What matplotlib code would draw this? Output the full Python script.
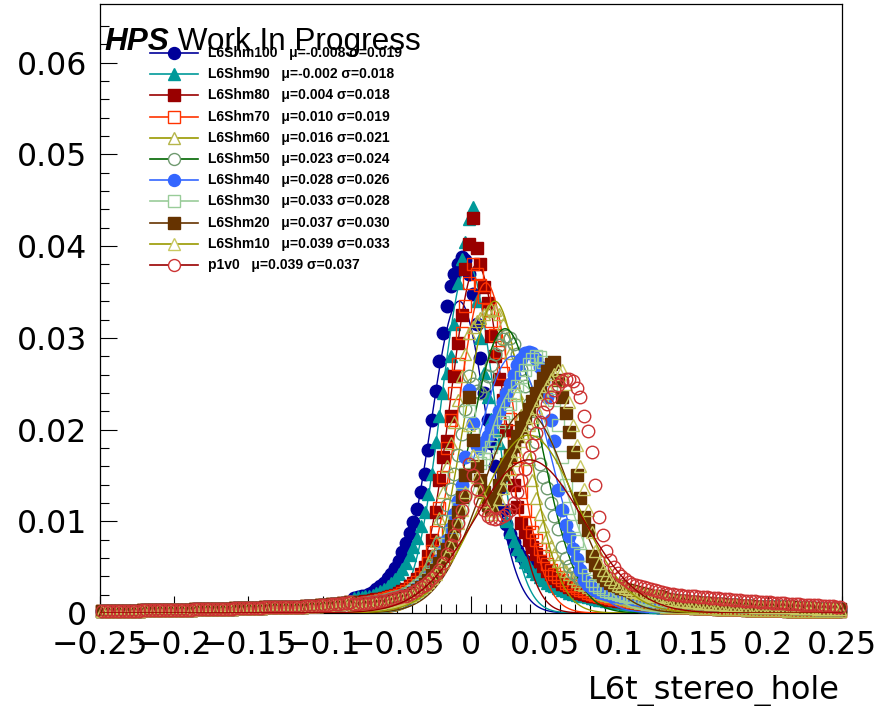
import matplotlib
matplotlib.use("Agg")
import matplotlib.pyplot as plt
import numpy as np

# 200 bins of width 0.0025 on [-0.25, 0.25]; contents in units of 1e-4
n_bins = 200
bin_centers = np.linspace(-0.24875, 0.24875, n_bins)

# far left tail, common to every sample (x <= -0.08)
tail_left = [2, 2, 2, 2, 2, 2, 2, 2, 2, 2,
             2, 3, 3, 3, 3, 3, 3, 3, 3, 3,
             3, 3, 3, 3, 3, 4, 4, 4, 4, 4,
             4, 4, 4, 4, 4, 4, 5, 5, 5, 5,
             5, 5, 5, 5, 6, 6, 6, 6, 6, 6,
             7, 7, 7, 7, 7, 8, 8, 8, 8, 9,
             9, 9, 10, 10, 10, 11, 11, 12]

# far right tails (x >= 0.13)
tail_right_narrow = [7, 7, 7, 6, 6, 6, 6, 6, 5, 5, 5, 5, 5, 5, 4, 4, 4, 4, 4, 4,
                     4, 4, 3, 3, 3, 3, 3, 3, 3, 3, 3, 3, 3, 2, 2, 2, 2, 2, 2, 2,
                     2, 2, 2, 2, 2, 2, 2, 2]
tail_right_wide = [15, 14, 14, 13, 13, 13, 12, 12, 12, 11, 11, 11, 10, 10, 10, 10, 9, 9, 9, 9,
                   8, 8, 8, 8, 7, 7, 7, 7, 7, 6, 6, 6, 6, 6, 6, 5, 5, 5, 5, 5,
                   5, 4, 4, 4, 4, 4, 4, 4]
tail_right_p1v0 = [22, 21, 21, 20, 20, 19, 19, 18, 18, 17, 17, 17, 16, 16, 16, 15, 15, 15, 14, 14,
                   14, 13, 13, 13, 13, 12, 12, 12, 12, 11, 11, 11, 11, 10, 10, 10, 10, 9, 9, 9,
                   9, 9, 8, 8, 8, 8, 7, 7]

# central bins, x from -0.07875 to 0.12875
core_shm100 = [16, 17, 18, 19, 21, 23, 26, 29, 33, 38,
               43, 49, 57, 66, 76, 87, 99, 113, 132, 152,
               178, 210, 242, 275, 305, 335, 356, 370, 380, 388,
               385, 370, 348, 315, 278, 240, 210, 185, 160, 135,
               112, 97, 86, 77, 69, 62, 57, 52, 48, 44,
               41, 38, 35, 33, 31, 29, 27, 25, 24, 22,
               21, 20, 19, 18, 17, 16, 15, 14, 13, 13,
               12, 12, 11, 11, 10, 10, 9, 9, 9, 8,
               8, 8, 7, 7]
core_shm90 = [16, 17, 17, 18, 19, 20, 22, 24, 26, 29,
              33, 37, 42, 48, 55, 63, 72, 82, 95, 110,
              130, 152, 186, 215, 240, 262, 280, 315, 360, 386,
              405, 430, 443, 340, 300, 262, 235, 212, 198, 185,
              150, 100, 88, 79, 70, 63, 56, 51, 46, 42,
              39, 36, 33, 31, 29, 27, 25, 24, 22, 21,
              20, 19, 18, 17, 16, 15, 14, 14, 13, 12,
              12, 11, 11, 10, 10, 10, 9, 9, 8, 8,
              8, 7, 7, 7]
core_shm80 = [11, 12, 12, 13, 13, 14, 15, 15, 16, 17,
              18, 20, 22, 24, 26, 29, 33, 37, 43, 50,
              62, 80, 110, 145, 170, 188, 215, 258, 294, 325,
              375, 402, 431, 398, 380, 355, 338, 302, 280, 255,
              232, 200, 170, 140, 116, 98, 88, 80, 72, 64,
              57, 51, 46, 42, 38, 35, 32, 30, 28, 26,
              24, 22, 21, 20, 19, 18, 17, 16, 15, 14,
              14, 13, 13, 12, 12, 11, 11, 10, 10, 10,
              9, 9, 9, 8]
core_shm70 = [10, 10, 11, 11, 12, 12, 13, 14, 15, 16,
              17, 18, 20, 22, 24, 27, 30, 34, 39, 45,
              55, 68, 88, 115, 148, 180, 210, 240, 272, 305,
              335, 360, 380, 370, 358, 345, 330, 318, 303, 285,
              262, 238, 212, 185, 158, 132, 112, 98, 88, 80,
              70, 62, 53, 47, 43, 39, 36, 33, 31, 29,
              27, 25, 24, 22, 21, 20, 19, 18, 17, 16,
              15, 15, 14, 13, 13, 12, 12, 11, 11, 10,
              10, 10, 9, 9]
core_shm60 = [10, 10, 11, 11, 12, 12, 13, 14, 15, 16,
              17, 18, 20, 22, 24, 27, 30, 34, 39, 45,
              53, 63, 78, 104, 132, 160, 185, 208, 232, 258,
              282, 305, 312, 318, 322, 326, 329, 331, 330, 326,
              315, 300, 283, 262, 240, 216, 193, 168, 145, 125,
              108, 95, 83, 73, 64, 57, 51, 46, 42, 38,
              35, 32, 30, 28, 26, 24, 22, 21, 20, 19,
              18, 17, 16, 15, 14, 13, 12, 11, 11, 10,
              10, 9, 9, 8]
core_shm50 = [10, 10, 11, 11, 12, 12, 13, 13, 14, 15,
              16, 17, 18, 20, 22, 24, 27, 30, 34, 39,
              45, 52, 62, 76, 100, 118, 135, 152, 172, 195,
              222, 258, 250, 242, 240, 248, 258, 270, 282, 292,
              299, 302, 300, 293, 282, 266, 248, 228, 207, 186,
              163, 148, 136, 120, 106, 92, 72, 60, 51, 44,
              40, 37, 35, 33, 31, 30, 29, 28, 26, 25,
              24, 23, 22, 21, 20, 19, 18, 17, 16, 16,
              15, 14, 14, 13]
core_shm40 = [9, 9, 10, 10, 10, 11, 11, 12, 12, 13,
              14, 15, 16, 18, 20, 22, 25, 28, 31, 35,
              39, 44, 51, 58, 68, 80, 93, 108, 122, 140,
              170, 243, 207, 182, 180, 186, 193, 201, 210, 220,
              230, 240, 250, 260, 270, 277, 283, 285, 283, 277,
              268, 253, 235, 210, 188, 134, 112, 96, 84, 70,
              59, 47, 36, 31, 27, 25, 23, 22, 21, 20,
              19, 18, 17, 17, 16, 15, 15, 14, 14, 14,
              13, 13, 13, 12]
core_shm30 = [9, 9, 10, 10, 10, 11, 11, 12, 12, 13,
              14, 15, 16, 17, 19, 21, 24, 27, 30, 33,
              37, 42, 48, 55, 64, 75, 87, 100, 114, 130,
              152, 220, 195, 170, 164, 168, 174, 181, 189, 198,
              208, 218, 228, 238, 248, 257, 265, 272, 277, 280,
              279, 274, 264, 250, 232, 205, 170, 140, 115, 95,
              78, 63, 50, 41, 35, 31, 28, 26, 24, 23,
              22, 21, 20, 19, 18, 17, 17, 16, 15, 15,
              14, 14, 13, 13]
core_shm20 = [9, 9, 9, 10, 10, 10, 11, 11, 12, 12,
              13, 14, 15, 16, 18, 20, 22, 25, 28, 32,
              36, 41, 47, 54, 62, 70, 80, 95, 110, 126,
              150, 236, 189, 160, 145, 132, 118, 113, 125, 140,
              152, 162, 172, 182, 193, 203, 213, 222, 231, 240,
              248, 256, 264, 271, 274, 254, 235, 218, 197, 176,
              150, 125, 105, 90, 62, 52, 45, 40, 36, 33,
              31, 29, 27, 26, 25, 24, 23, 22, 21, 20,
              19, 18, 18, 17]
core_shm10 = [9, 9, 9, 10, 10, 10, 11, 11, 12, 12,
              13, 14, 15, 16, 17, 19, 21, 24, 27, 30,
              34, 38, 43, 49, 56, 64, 73, 85, 98, 112,
              132, 205, 172, 148, 133, 122, 112, 108, 112, 124,
              136, 147, 157, 167, 177, 187, 196, 205, 214, 223,
              232, 240, 248, 255, 261, 265, 265, 250, 230, 205,
              183, 160, 135, 112, 88, 68, 55, 47, 41, 37,
              34, 31, 29, 27, 26, 24, 23, 22, 21, 20,
              19, 18, 18, 17]
core_p1v0 = [10, 10, 11, 11, 11, 12, 12, 13, 13, 14,
             15, 16, 17, 18, 19, 21, 23, 25, 28, 31,
             34, 38, 42, 47, 55, 64, 74, 85, 98, 112,
             128, 162, 150, 135, 122, 112, 106, 104, 103, 104,
             106, 108, 112, 120, 132, 145, 157, 170, 183, 196,
             208, 219, 228, 236, 243, 249, 253, 255, 255, 253,
             245, 236, 215, 198, 175, 140, 105, 85, 68, 58,
             50, 44, 40, 37, 34, 32, 30, 29, 28, 27,
             26, 25, 24, 23]

names = ["L6Shm100", "L6Shm90", "L6Shm80", "L6Shm70", "L6Shm60", "L6Shm50",
         "L6Shm40", "L6Shm30", "L6Shm20", "L6Shm10", "p1v0"]
cores = [core_shm100, core_shm90, core_shm80, core_shm70, core_shm60, core_shm50,
         core_shm40, core_shm30, core_shm20, core_shm10, core_p1v0]
tails = [tail_right_narrow] * 5 + [tail_right_wide] * 5 + [tail_right_p1v0]

# gaussian fit results
fit_mu = [-0.008, -0.002, 0.004, 0.010, 0.016, 0.023, 0.028, 0.033, 0.037, 0.039, 0.039]
fit_sigma = [0.019, 0.018, 0.018, 0.019, 0.021, 0.024, 0.026, 0.028, 0.030, 0.033, 0.037]
fit_peak = [0.034, 0.038, 0.038, 0.036, 0.034, 0.031, 0.028, 0.025, 0.022, 0.0194, 0.0167]

markers = ["o", "^", "s", "s", "^", "o", "o", "s", "s", "^", "o"]
filled = [True, True, True, False, False, False, True, False, True, False, False]
marker_colors = ["#000099", "#009999", "#990000", "#ff3300", "#b5b54a", "#6f9a6f",
                 "#3366ff", "#99cc99", "#663300", "#c8c860", "#cc3333"]
line_colors = ["#000099", "#009999", "#990000", "#ff3300", "#999900", "#006600",
               "#3366ff", "#99cc99", "#663300", "#999900", "#990000"]

W, H = 878, 706
fig = plt.figure(figsize=(W / 100, H / 100), dpi=100)
ax = fig.add_axes([100 / W, 93 / H, 742 / W, 609 / H])

xf = np.linspace(-0.25, 0.25, 800)
for i in range(len(names)):
    y = np.array(tail_left + cores[i] + tails[i]) * 1e-4
    ax.plot(bin_centers, y, ls="none", marker=markers[i], ms=9,
            mfc=marker_colors[i] if filled[i] else "none",
            mec=marker_colors[i], mew=1.0, clip_on=False, zorder=3 + 2 * i)
    g = fit_peak[i] * np.exp(-0.5 * ((xf - fit_mu[i]) / fit_sigma[i]) ** 2)
    ax.plot(xf, g, color=line_colors[i], lw=1.0, zorder=4 + 2 * i)

ax.set_xlim(-0.25, 0.25)
ax.set_ylim(0, 0.0664)

xticks = [-0.25, -0.2, -0.15, -0.1, -0.05, 0, 0.05, 0.1, 0.15, 0.2, 0.25]
xtick_labels = ["\u22120.25", "\u22120.2", "\u22120.15", "\u22120.1", "\u22120.05", "0",
                "0.05", "0.1", "0.15", "0.2", "0.25"]
yticks = [0, 0.01, 0.02, 0.03, 0.04, 0.05, 0.06]
ytick_labels = ["0", "0.01", "0.02", "0.03", "0.04", "0.05", "0.06"]
ax.set_xticks(xticks)
ax.set_xticklabels(xtick_labels)
ax.set_yticks(yticks)
ax.set_yticklabels(ytick_labels)
ax.set_xticks(np.arange(-0.25, 0.2501, 0.01), minor=True)
ax.set_yticks(np.arange(0, 0.066, 0.002), minor=True)

ax.tick_params(which="both", direction="in", top=False, right=False, width=0.8,
               labelsize=22.7)
ax.tick_params(which="major", length=12)
ax.tick_params(which="minor", length=6.5)
ax.tick_params(axis="y", which="major", pad=9)
ax.tick_params(axis="x", which="major", pad=12)
for sp in ax.spines.values():
    sp.set_linewidth(0.9)
    sp.set_zorder(2.5)

fig.text(840 / W, 1 - 699 / H, "L6t_stereo_hole", ha="right", va="baseline",
         fontsize=23)

# header text
hps = ax.text(0.0054, 0.9245, "HPS", transform=ax.transAxes, fontsize=22.7,
              fontweight="bold", fontstyle="italic", family="Liberation Sans",
              va="baseline", zorder=40)
ax.annotate(" Work In Progress", xy=(1, 0), xycoords=hps, va="bottom", ha="left",
            fontsize=22.7, family="Liberation Sans", zorder=40)

# legend, drawn entry by entry
ax_w, ax_h, ax_top, ax_left = 742, 609, 4, 100
for i in range(len(names)):
    yrow = 1 - (53 + 21.2 * i - ax_top) / ax_h
    ax.plot([(150 - ax_left) / ax_w, (198 - ax_left) / ax_w], [yrow, yrow],
            color=line_colors[i], lw=1.2, transform=ax.transAxes, clip_on=False,
            zorder=30)
    ax.plot([(174 - ax_left) / ax_w], [yrow], ls="none", marker=markers[i], ms=8.6,
            mfc=marker_colors[i] if filled[i] else "white", mec=marker_colors[i],
            mew=1.0, transform=ax.transAxes, clip_on=False, zorder=31)
    label = f"{names[i]}   \u03bc={fit_mu[i]:.3f} \u03c3={fit_sigma[i]:.3f}"
    ax.text((208 - ax_left) / ax_w, yrow, label, transform=ax.transAxes,
            fontsize=10, fontweight="bold", family="Liberation Sans",
            va="center", ha="left", zorder=32)

fig.savefig("out.png", dpi=100)
